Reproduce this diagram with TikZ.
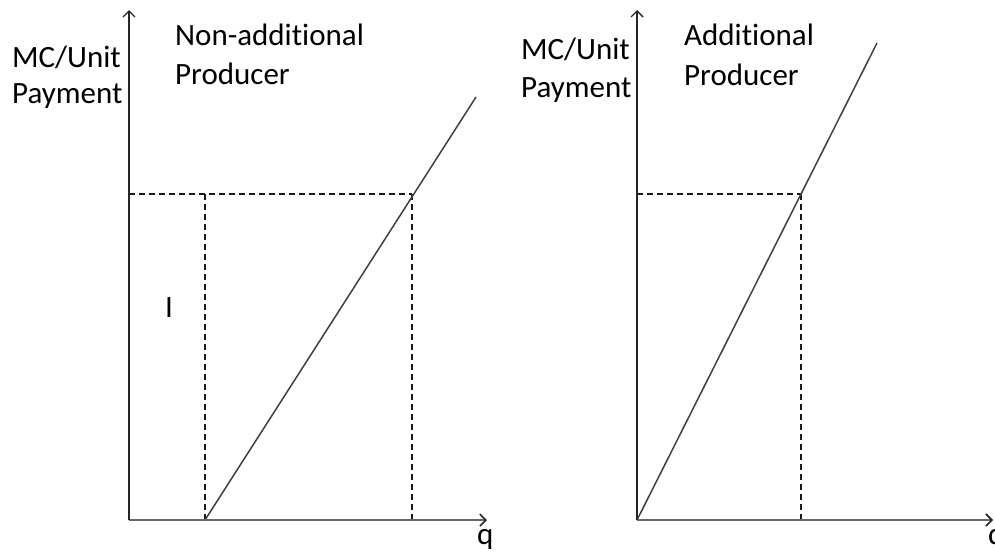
\documentclass[tikz,border=0pt]{standalone}
\usepackage{fontspec}
\setmainfont[Ligatures=NoCommon]{Carlito}
\usetikzlibrary{arrows.meta}
\begin{document}
\begin{tikzpicture}[x=1pt,y=-1pt,
  lbl/.style={anchor=base west, inner sep=0pt, font=\fontsize{31}{37}\selectfont},
  yaxis/.style={line width=1.5pt, black!85, -{Straight Barb[length=6pt,width=12pt,line width=1.4pt]}},
  xaxis/.style={line width=1.9pt, black!60, -{Straight Barb[length=6pt,width=12pt,line width=1.6pt,black!85]}},
  guide/.style={line width=1.5pt, dash pattern=on 6pt off 4pt, black!90},
  curve/.style={line width=1.5pt, black!75}]
\useasboundingbox (0,0) rectangle (995,552);
% left panel points
\coordinate (O1) at (129,520);
\coordinate (Y1) at (129,10);
\coordinate (X1) at (487,520);
\coordinate (A1) at (205,520);
\coordinate (H1) at (129,194);
\coordinate (B1) at (205,194);
\coordinate (P1) at (412,194);
\coordinate (Q1) at (412,520);
\coordinate (E1) at (476,97);
% right panel points
\coordinate (O2) at (637,520);
\coordinate (Y2) at (637,10);
\coordinate (X2) at (993,520);
\coordinate (H2) at (637,194);
\coordinate (P2) at (801,194);
\coordinate (Q2) at (801,520);
\coordinate (E2) at (877,43);
% left panel
\draw[guide] (H1) -- (P1);
\draw[guide] (B1) -- (A1);
\draw[guide] (P1) -- (Q1);
\draw[curve] (A1) -- (E1);
\draw[xaxis] (O1) -- (X1);
\draw[yaxis] (O1) -- (Y1);
\node[lbl] (l1a) at (12,67) {MC/Unit};
\node[lbl] (l1b) at (12,103) {Payment};
\node[lbl] (t1a) at (175,45) {Non-additional};
\node[lbl] (t1b) at (175,84) {Producer};
\node[lbl] (i1) at (165,317) {I};
\node[lbl] (q1) at (477,544) {q};
% right panel
\draw[guide] (H2) -- (P2);
\draw[guide] (P2) -- (Q2);
\draw[curve] (O2) -- (E2);
\draw[xaxis] (O2) -- (X2);
\draw[yaxis] (O2) -- (Y2);
\node[lbl] (l2a) at (521,59) {MC/Unit};
\node[lbl] (l2b) at (521,97) {Payment};
\node[lbl] (t2a) at (684,45) {Additional};
\node[lbl] (t2b) at (684,85) {Producer};
\node[lbl] (q2) at (988,544) {q};
\end{tikzpicture}
\end{document}
